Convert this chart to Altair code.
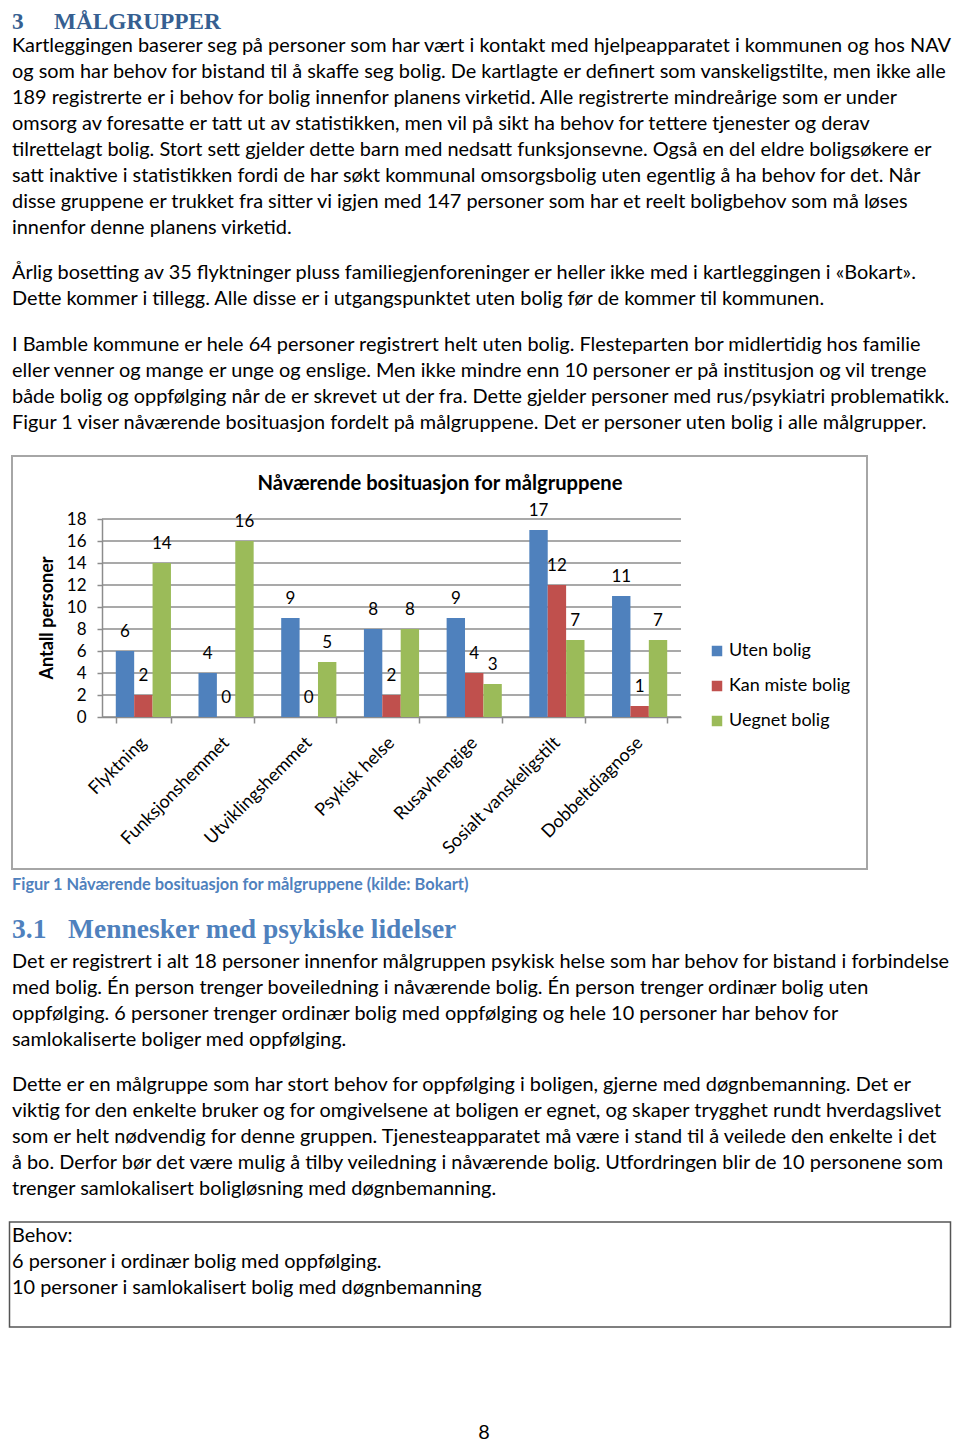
import altair as alt
import pandas as pd

# ---------------- data ----------------
categories = ["Flyktning", "Funksjonshemmet", "Utviklingshemmet", "Psykisk helse",
              "Rusavhengige", "Sosialt vanskeligstilt", "Dobbeltdiagnose"]
series_names = ["Uten bolig", "Kan miste bolig", "Uegnet bolig"]
uten_bolig = [6, 4, 9, 8, 9, 17, 11]
kan_miste_bolig = [2, 0, 0, 2, 4, 12, 1]
uegnet_bolig = [14, 16, 5, 8, 3, 7, 7]
y_ticks = [0, 2, 4, 6, 8, 10, 12, 14, 16, 18]
series_colors = ["#4F81BD", "#C0504D", "#9BBB59"]

chart_title = "Nåværende bosituasjon for målgruppene"
y_title = "Antall personer"
caption = "Figur 1 Nåværende bosituasjon for målgruppene (kilde: Bokart)"

heading_num = "3"
heading_text = "MÅLGRUPPER"
sub_num = "3.1"
sub_text = "Mennesker med psykiske lidelser"

para1 = [
    "Kartleggingen baserer seg på personer som har vært i kontakt med hjelpeapparatet i kommunen og hos NAV",
    "og som har behov for bistand til å skaffe seg bolig. De kartlagte er definert som vanskeligstilte, men ikke alle",
    "189 registrerte er i behov for bolig innenfor planens virketid. Alle registrerte mindreårige som er under",
    "omsorg av foresatte er tatt ut av statistikken, men vil på sikt ha behov for tettere tjenester og derav",
    "tilrettelagt bolig. Stort sett gjelder dette barn med nedsatt funksjonsevne. Også en del eldre boligsøkere er",
    "satt inaktive i statistikken fordi de har søkt kommunal omsorgsbolig uten egentlig å ha behov for det. Når",
    "disse gruppene er trukket fra sitter vi igjen med 147 personer som har et reelt boligbehov som må løses",
    "innenfor denne planens virketid.",
]
para2 = [
    "Årlig bosetting av 35 flyktninger pluss familiegjenforeninger er heller ikke med i kartleggingen i «Bokart».",
    "Dette kommer i tillegg. Alle disse er i utgangspunktet uten bolig før de kommer til kommunen.",
]
para3 = [
    "I Bamble kommune er hele 64 personer registrert helt uten bolig. Flesteparten bor midlertidig hos familie",
    "eller venner og mange er unge og enslige. Men ikke mindre enn 10 personer er på institusjon og vil trenge",
    "både bolig og oppfølging når de er skrevet ut der fra. Dette gjelder personer med rus/psykiatri problematikk.",
    "Figur 1 viser nåværende bosituasjon fordelt på målgruppene. Det er personer uten bolig i alle målgrupper.",
]
para4 = [
    "Det er registrert i alt 18 personer innenfor målgruppen psykisk helse som har behov for bistand i forbindelse",
    "med bolig. Én person trenger boveiledning i nåværende bolig. Én person trenger ordinær bolig uten",
    "oppfølging. 6 personer trenger ordinær bolig med oppfølging og hele 10 personer har behov for",
    "samlokaliserte boliger med oppfølging.",
]
para5 = [
    "Dette er en målgruppe som har stort behov for oppfølging i boligen, gjerne med døgnbemanning. Det er",
    "viktig for den enkelte bruker og for omgivelsene at boligen er egnet, og skaper trygghet rundt hverdagslivet",
    "som er helt nødvendig for denne gruppen. Tjenesteapparatet må være i stand til å veilede den enkelte i det",
    "å bo. Derfor bør det være mulig å tilby veiledning i nåværende bolig. Utfordringen blir de 10 personene som",
    "trenger samlokalisert boligløsning med døgnbemanning.",
]
behov = [
    "Behov:",
    "6 personer i ordinær bolig med oppfølging.",
    "10 personer i samlokalisert bolig med døgnbemanning",
]
page_number = "8"

# ---------------- layout ----------------
W, H = 944, 1436
M = 8
BODY_FONT = "Lato"
SERIF = "Liberation Serif"
BODY_SIZE = 19.9
LH = 26


def cx(x):
    return x - M


def cy(y):
    return y - M


def text_layer(lines, x, y0, size=BODY_SIZE, font=BODY_FONT, weight="normal",
               color="#000000", align="left", lh=LH, baseline="middle"):
    df = pd.DataFrame({
        "t": lines,
        "px": [cx(x)] * len(lines),
        "py": [cy(y0 + i * lh) for i in range(len(lines))],
    })
    return alt.Chart(df).mark_text(
        font=font, fontSize=size, fontWeight=weight, color=color,
        align=align, baseline=baseline
    ).encode(
        x=alt.X("px:Q", scale=None, axis=None),
        y=alt.Y("py:Q", scale=None, axis=None),
        text="t:N",
    )


dummy = pd.DataFrame({"k": [0]})


def box(x0, y0, x1, y1, stroke, sw):
    return alt.Chart(dummy).mark_rect(
        fillOpacity=0, stroke=stroke, strokeWidth=sw
    ).encode(
        x=alt.value(cx(x0)), x2=alt.value(cx(x1)),
        y=alt.value(cy(y0)), y2=alt.value(cy(y1)),
    )


# ---------------- bar chart ----------------
rows = []
for s_name, vals in zip(series_names, [uten_bolig, kan_miste_bolig, uegnet_bolig]):
    for c, v in zip(categories, vals):
        rows.append({"cat": c, "series": s_name, "value": v})
bars_df = pd.DataFrame(rows)
grid_df = pd.DataFrame({"value": y_ticks})

PX0, PX1 = 102, 681
PY0, PY1 = 717, 519
GRAY = "#8C8C8C"

x_enc = alt.X(
    "cat:N", sort=categories, title=None,
    scale=alt.Scale(domain=categories, range=[cx(PX0), cx(PX1)],
                    paddingInner=0.333, paddingOuter=0.1667),
    axis=alt.Axis(
        orient="bottom", offset=-(H - cy(PY0)), domainColor=GRAY, domainWidth=1.5,
        tickColor=GRAY, tickWidth=1.5, tickSize=6, tickBand="extent",
        labelAngle=-45, labelAlign="right", labelBaseline="middle",
        labelFont=BODY_FONT, labelFontSize=18, labelColor="#000000",
        labelPadding=17, labelOverlap=False, labelLimit=300,
    ),
)
xoff_enc = alt.XOffset("series:N", sort=series_names,
                       scale=alt.Scale(domain=series_names, paddingInner=0, paddingOuter=0))
y_enc = alt.Y(
    "value:Q", title=None,
    scale=alt.Scale(domain=[0, 18], range=[cy(PY0), cy(PY1)], nice=False, zero=True),
    axis=alt.Axis(
        orient="left", offset=-cx(PX0), values=y_ticks, grid=False,
        domainColor=GRAY, domainWidth=1.5, tickColor=GRAY, tickWidth=1.5, tickSize=5,
        labelFont=BODY_FONT, labelFontSize=17, labelColor="#000000", labelPadding=11,
    ),
)

grid = alt.Chart(grid_df).mark_rule(color=GRAY, strokeWidth=1.5).encode(
    y=y_enc, x=alt.value(cx(PX0)), x2=alt.value(cx(PX1))
)
bars = alt.Chart(bars_df).mark_bar().encode(
    x=x_enc, xOffset=xoff_enc, y=y_enc,
    color=alt.Color(
        "series:N", sort=series_names,
        scale=alt.Scale(domain=series_names, range=series_colors),
        legend=alt.Legend(
            orient="none", legendX=cx(708), legendY=cy(642), title=None,
            symbolType="square", symbolSize=110, symbolStrokeWidth=0,
            labelFont=BODY_FONT, labelFontSize=18, labelColor="#000000",
            rowPadding=17, labelOffset=3, padding=0,
        ),
    ),
)
labels = alt.Chart(bars_df).mark_text(
    font=BODY_FONT, fontSize=17, color="#000000", dy=-19, baseline="middle"
).encode(x=x_enc, xOffset=xoff_enc, y=y_enc, text="value:Q")

bar_block = alt.layer(grid, bars, labels)

# ---------------- assemble ----------------
layers = [
    text_layer([heading_num], 12, 28.9, size=23.3, font=SERIF, weight="bold", color="#365F91",
               baseline="alphabetic"),
    text_layer([heading_text], 54, 28.9, size=23.3, font=SERIF, weight="bold", color="#365F91",
               baseline="alphabetic"),
    text_layer(para1, 12, 46),
    text_layer(para2, 12, 273),
    text_layer(para3, 12, 345),
    box(12, 456, 867, 869, "#A6A6A6", 2),
    text_layer([chart_title], 440, 484, size=20.2, weight="bold", align="center"),
    text_layer([caption], 12, 885, size=16.4, weight="bold", color="#4F81BD"),
    text_layer([sub_num], 12, 930, size=27.5, font=SERIF, weight="bold", color="#4F81BD"),
    text_layer([sub_text], 68, 930, size=27.5, font=SERIF, weight="bold", color="#4F81BD"),
    text_layer(para4, 12, 962),
    text_layer(para5, 12, 1085),
    box(9.5, 1222, 950.5, 1327, "#555555", 1.5),
    text_layer(behov, 12, 1236),
    text_layer([page_number], 484, 1439, align="center", baseline="alphabetic"),
]

y_title_layer = alt.Chart(pd.DataFrame({"t": [y_title], "px": [cx(48)], "py": [cy(618)]})).mark_text(
    font=BODY_FONT, fontSize=18, fontWeight="bold", color="#000000", angle=270,
    align="center", baseline="middle"
).encode(x=alt.X("px:Q", scale=None, axis=None), y=alt.Y("py:Q", scale=None, axis=None), text="t:N")

chart = alt.layer(*layers, y_title_layer, bar_block).resolve_scale(
    x="independent", y="independent"
).properties(
    width=W, height=H, autosize=alt.AutoSizeParams(type="none"), padding=0,
    background="#FFFFFF",
).configure_view(strokeOpacity=0)

chart.save("out.html", embed_options={"renderer": "svg", "actions": False})
